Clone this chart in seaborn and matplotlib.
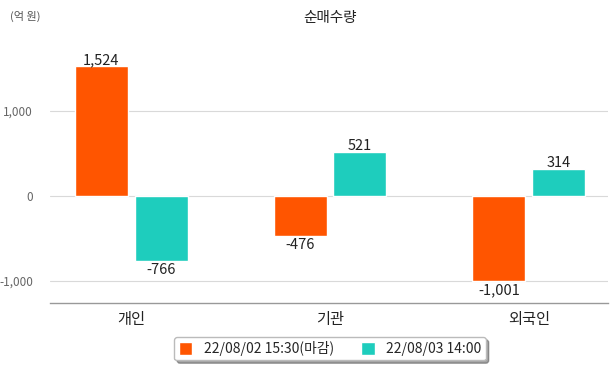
import numpy as np
import pandas as pd
import matplotlib
matplotlib.use("Agg")
import matplotlib.pyplot as plt
import seaborn as sns

categories = ["개인", "기관", "외국인"]
series_names = ["22/08/02 15:30(마감)", "22/08/03 14:00"]
values_close = [1524, -476, -1001]
values_now = [-766, 521, 314]
colors = ["#FF5500", "#1ECDBD"]
yticks = [-1000, 0, 1000]
ytick_labels = ["-1,000", "0", "1,000"]

df = pd.DataFrame({
    "구분": categories * 2,
    "시점": [series_names[0]] * 3 + [series_names[1]] * 3,
    "값": values_close + values_now,
})

sns.set_style("white")
plt.rcParams["font.family"] = ["Noto Sans CJK KR", "DejaVu Sans"]

fig = plt.figure(figsize=(6.15, 3.68), dpi=100)
ax = fig.add_axes([0.081, 0.177, 0.908, 0.706])

sns.barplot(data=df, x="구분", y="값", hue="시점", palette=colors,
            width=0.60, gap=0.11, saturation=1, ax=ax, legend=True)

ax.set_xlim(-0.41, 2.40)
ax.set_ylim(-1260, 1800)
ax.set_yticks(yticks)
ax.set_yticklabels(ytick_labels, color="#666666", fontsize=8.5)
for y in yticks:
    ax.axhline(y, color="#d9d9d9", lw=0.8, zorder=0)
ax.tick_params(axis="x", length=0, labelsize=11, colors="#222222", pad=6)
ax.tick_params(axis="y", length=0, pad=12)
ax.set_xlabel("")
ax.set_ylabel("")
for s in ["top", "right", "left"]:
    ax.spines[s].set_visible(False)
ax.spines["bottom"].set_color("#999999")
ax.spines["bottom"].set_linewidth(1.0)

for cont in ax.containers:
    for bar in cont:
        h = bar.get_height()
        x = bar.get_x() + bar.get_width() / 2
        if h >= 0:
            ax.text(x, h - 15, f"{h:,.0f}", ha="center", va="bottom",
                    fontsize=10.5, color="#222222")
        else:
            ax.text(x, h - 25, f"{h:,.0f}", ha="center", va="top",
                    fontsize=10.5, color="#222222")

handles, labels = ax.get_legend_handles_labels()
ax.legend(handles, labels, loc="upper center", bbox_to_anchor=(0.502, -0.105),
          ncol=2, frameon=True, fancybox=True, shadow=True, fontsize=10,
          handlelength=1.0, handleheight=1.0, columnspacing=2.0,
          borderpad=0.3, edgecolor="#bbbbbb")

fig.text(0.017, 0.955, "(억 원)", fontsize=8, color="#555555", va="center")
fig.text(0.537, 0.95, "순매수량", fontsize=10.5, color="#222222",
         ha="center", va="center")

fig.savefig("out.png", dpi=100)
